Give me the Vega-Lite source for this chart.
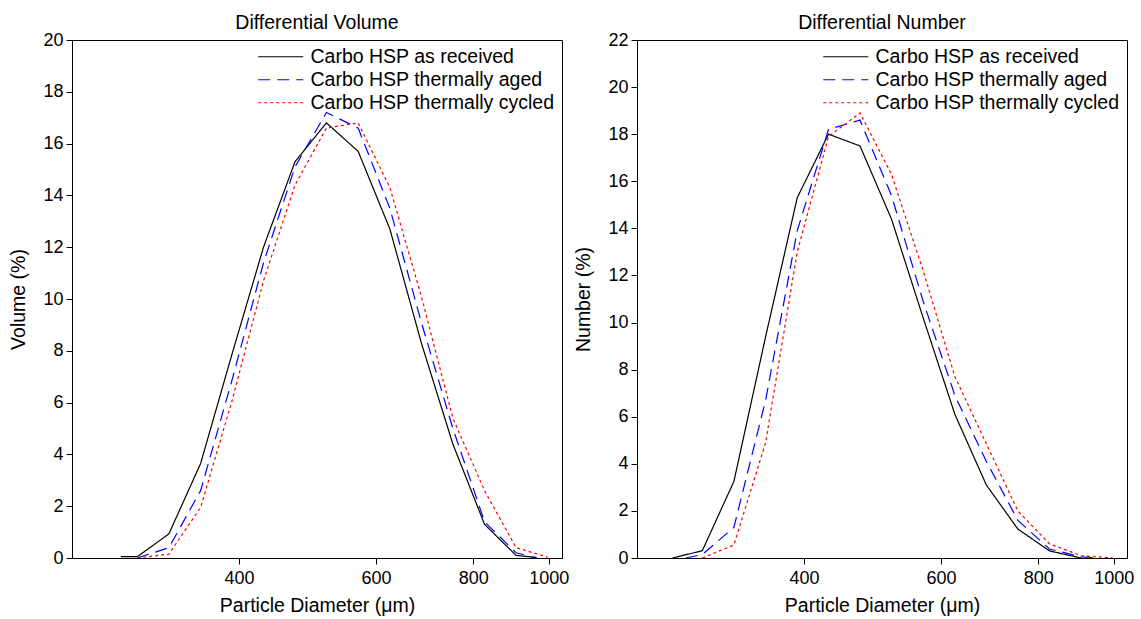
{
  "$schema": "https://vega.github.io/schema/vega-lite/v6.json",
  "background": "white",
  "padding": {"left": 8, "top": 12, "right": 5, "bottom": 5},
  "config": {
    "font": "Liberation Sans",
    "view": {"stroke": "#000000", "strokeWidth": 1},
    "axis": {"domainColor": "#000000", "tickColor": "#000000", "labelColor": "#000000", "titleColor": "#000000", "labelFontSize": 18, "titleFontSize": 19.5, "titleFontWeight": "normal", "tickSize": 6, "grid": false, "labelFont": "Liberation Sans", "titleFont": "Liberation Sans", "domainWidth": 1, "tickWidth": 1},
    "axisY": {"titlePadding": 14, "labelPadding": 3},
    "axisX": {"titlePadding": 9, "labelPadding": 5},
    "title": {"fontSize": 19.5, "fontWeight": "normal", "color": "#000000", "font": "Liberation Sans", "offset": -2},
    "legend": {"orient": "top-right", "offset": 7, "labelFontSize": 19.5, "labelFont": "Liberation Sans", "labelColor": "#000000", "symbolType": "M-3,0H3", "symbolSize": 225, "symbolStrokeWidth": 1.2, "labelOffset": 20, "rowPadding": 2, "padding": 0, "labelLimit": 400}
  },
  "datasets": {
    "psd": [
      {"panel": "volume", "series": "Carbo HSP as received", "d": 282, "v": 0.05},
      {"panel": "volume", "series": "Carbo HSP as received", "d": 296, "v": 0.05},
      {"panel": "volume", "series": "Carbo HSP as received", "d": 325, "v": 0.93},
      {"panel": "volume", "series": "Carbo HSP as received", "d": 357, "v": 3.65},
      {"panel": "volume", "series": "Carbo HSP as received", "d": 392, "v": 7.9},
      {"panel": "volume", "series": "Carbo HSP as received", "d": 430, "v": 12.0},
      {"panel": "volume", "series": "Carbo HSP as received", "d": 472, "v": 15.3},
      {"panel": "volume", "series": "Carbo HSP as received", "d": 518, "v": 16.8},
      {"panel": "volume", "series": "Carbo HSP as received", "d": 569, "v": 15.7},
      {"panel": "volume", "series": "Carbo HSP as received", "d": 625, "v": 12.7},
      {"panel": "volume", "series": "Carbo HSP as received", "d": 686, "v": 8.3},
      {"panel": "volume", "series": "Carbo HSP as received", "d": 753, "v": 4.4},
      {"panel": "volume", "series": "Carbo HSP as received", "d": 827, "v": 1.3},
      {"panel": "volume", "series": "Carbo HSP as received", "d": 908, "v": 0.1},
      {"panel": "volume", "series": "Carbo HSP as received", "d": 965, "v": 0.02},
      {"panel": "volume", "series": "Carbo HSP thermally aged", "d": 296, "v": 0},
      {"panel": "volume", "series": "Carbo HSP thermally aged", "d": 325, "v": 0.4},
      {"panel": "volume", "series": "Carbo HSP thermally aged", "d": 357, "v": 2.6},
      {"panel": "volume", "series": "Carbo HSP thermally aged", "d": 392, "v": 6.9},
      {"panel": "volume", "series": "Carbo HSP thermally aged", "d": 430, "v": 11.4},
      {"panel": "volume", "series": "Carbo HSP thermally aged", "d": 472, "v": 15.1},
      {"panel": "volume", "series": "Carbo HSP thermally aged", "d": 518, "v": 17.2},
      {"panel": "volume", "series": "Carbo HSP thermally aged", "d": 569, "v": 16.6},
      {"panel": "volume", "series": "Carbo HSP thermally aged", "d": 625, "v": 13.5},
      {"panel": "volume", "series": "Carbo HSP thermally aged", "d": 686, "v": 9.1},
      {"panel": "volume", "series": "Carbo HSP thermally aged", "d": 753, "v": 5.0},
      {"panel": "volume", "series": "Carbo HSP thermally aged", "d": 827, "v": 1.4},
      {"panel": "volume", "series": "Carbo HSP thermally aged", "d": 908, "v": 0.2},
      {"panel": "volume", "series": "Carbo HSP thermally aged", "d": 965, "v": 0},
      {"panel": "volume", "series": "Carbo HSP thermally cycled", "d": 296, "v": 0},
      {"panel": "volume", "series": "Carbo HSP thermally cycled", "d": 325, "v": 0.15},
      {"panel": "volume", "series": "Carbo HSP thermally cycled", "d": 357, "v": 1.95},
      {"panel": "volume", "series": "Carbo HSP thermally cycled", "d": 392, "v": 6.1},
      {"panel": "volume", "series": "Carbo HSP thermally cycled", "d": 430, "v": 10.7},
      {"panel": "volume", "series": "Carbo HSP thermally cycled", "d": 472, "v": 14.4},
      {"panel": "volume", "series": "Carbo HSP thermally cycled", "d": 518, "v": 16.6},
      {"panel": "volume", "series": "Carbo HSP thermally cycled", "d": 569, "v": 16.8},
      {"panel": "volume", "series": "Carbo HSP thermally cycled", "d": 625, "v": 14.3},
      {"panel": "volume", "series": "Carbo HSP thermally cycled", "d": 686, "v": 10.1},
      {"panel": "volume", "series": "Carbo HSP thermally cycled", "d": 753, "v": 5.4},
      {"panel": "volume", "series": "Carbo HSP thermally cycled", "d": 827, "v": 2.6},
      {"panel": "volume", "series": "Carbo HSP thermally cycled", "d": 908, "v": 0.4},
      {"panel": "volume", "series": "Carbo HSP thermally cycled", "d": 997, "v": 0.03},
      {"panel": "number", "series": "Carbo HSP as received", "d": 271, "v": 0},
      {"panel": "number", "series": "Carbo HSP as received", "d": 296, "v": 0.31},
      {"panel": "number", "series": "Carbo HSP as received", "d": 325, "v": 3.25},
      {"panel": "number", "series": "Carbo HSP as received", "d": 357, "v": 9.4},
      {"panel": "number", "series": "Carbo HSP as received", "d": 392, "v": 15.3},
      {"panel": "number", "series": "Carbo HSP as received", "d": 430, "v": 18.0},
      {"panel": "number", "series": "Carbo HSP as received", "d": 472, "v": 17.5},
      {"panel": "number", "series": "Carbo HSP as received", "d": 518, "v": 14.4},
      {"panel": "number", "series": "Carbo HSP as received", "d": 569, "v": 10.2},
      {"panel": "number", "series": "Carbo HSP as received", "d": 625, "v": 6.1},
      {"panel": "number", "series": "Carbo HSP as received", "d": 686, "v": 3.1},
      {"panel": "number", "series": "Carbo HSP as received", "d": 753, "v": 1.23},
      {"panel": "number", "series": "Carbo HSP as received", "d": 827, "v": 0.3},
      {"panel": "number", "series": "Carbo HSP as received", "d": 908, "v": 0},
      {"panel": "number", "series": "Carbo HSP thermally aged", "d": 282, "v": 0},
      {"panel": "number", "series": "Carbo HSP thermally aged", "d": 296, "v": 0.15},
      {"panel": "number", "series": "Carbo HSP thermally aged", "d": 325, "v": 1.3},
      {"panel": "number", "series": "Carbo HSP thermally aged", "d": 357, "v": 6.7},
      {"panel": "number", "series": "Carbo HSP thermally aged", "d": 392, "v": 13.9},
      {"panel": "number", "series": "Carbo HSP thermally aged", "d": 430, "v": 18.2},
      {"panel": "number", "series": "Carbo HSP thermally aged", "d": 472, "v": 18.6},
      {"panel": "number", "series": "Carbo HSP thermally aged", "d": 518, "v": 15.4},
      {"panel": "number", "series": "Carbo HSP thermally aged", "d": 569, "v": 10.9},
      {"panel": "number", "series": "Carbo HSP thermally aged", "d": 625, "v": 6.9},
      {"panel": "number", "series": "Carbo HSP thermally aged", "d": 686, "v": 4.1},
      {"panel": "number", "series": "Carbo HSP thermally aged", "d": 753, "v": 1.6},
      {"panel": "number", "series": "Carbo HSP thermally aged", "d": 827, "v": 0.38},
      {"panel": "number", "series": "Carbo HSP thermally aged", "d": 908, "v": 0.05},
      {"panel": "number", "series": "Carbo HSP thermally aged", "d": 960, "v": 0},
      {"panel": "number", "series": "Carbo HSP thermally cycled", "d": 296, "v": 0},
      {"panel": "number", "series": "Carbo HSP thermally cycled", "d": 325, "v": 0.55},
      {"panel": "number", "series": "Carbo HSP thermally cycled", "d": 357, "v": 4.9},
      {"panel": "number", "series": "Carbo HSP thermally cycled", "d": 392, "v": 13.0},
      {"panel": "number", "series": "Carbo HSP thermally cycled", "d": 430, "v": 17.9},
      {"panel": "number", "series": "Carbo HSP thermally cycled", "d": 472, "v": 18.9},
      {"panel": "number", "series": "Carbo HSP thermally cycled", "d": 518, "v": 16.3},
      {"panel": "number", "series": "Carbo HSP thermally cycled", "d": 569, "v": 12.2},
      {"panel": "number", "series": "Carbo HSP thermally cycled", "d": 625, "v": 7.7},
      {"panel": "number", "series": "Carbo HSP thermally cycled", "d": 686, "v": 4.85},
      {"panel": "number", "series": "Carbo HSP thermally cycled", "d": 753, "v": 2.0},
      {"panel": "number", "series": "Carbo HSP thermally cycled", "d": 827, "v": 0.6},
      {"panel": "number", "series": "Carbo HSP thermally cycled", "d": 908, "v": 0.1},
      {"panel": "number", "series": "Carbo HSP thermally cycled", "d": 997, "v": 0}
    ]
  },
  "spacing": 75,
  "bounds": "flush",
  "resolve": {"scale": {"color": "independent", "strokeDash": "independent", "y": "independent"}, "legend": {"color": "independent", "strokeDash": "independent"}},
  "hconcat": [
    {
      "width": 490,
      "height": 518,
      "title": {"text": "Differential Volume"},
      "data": {"name": "psd"},
      "transform": [{"filter": "datum.panel === 'volume'"}],
      "mark": {"type": "line", "strokeWidth": 1.2, "clip": true},
      "encoding": {
        "x": {"field": "d", "type": "quantitative", "scale": {"type": "log", "domain": [244, 1040], "nice": false}, "axis": {"values": [400, 600, 800, 1000], "format": "d", "title": "Particle Diameter (μm)"}},
        "y": {"field": "v", "type": "quantitative", "scale": {"domain": [0, 20], "nice": false, "zero": true}, "axis": {"values": [0, 2, 4, 6, 8, 10, 12, 14, 16, 18, 20], "title": "Volume (%)"}},
        "color": {"field": "series", "type": "nominal", "scale": {"domain": ["Carbo HSP as received", "Carbo HSP thermally aged", "Carbo HSP thermally cycled"], "range": ["#000000", "#0000ff", "#ff0000"]}, "legend": {"title": null}},
        "strokeDash": {"field": "series", "type": "nominal", "scale": {"domain": ["Carbo HSP as received", "Carbo HSP thermally aged", "Carbo HSP thermally cycled"], "range": [[1, 0], [12, 7], [3, 3]]}, "legend": {"title": null}}
      }
    },
    {
      "width": 490,
      "height": 518,
      "title": {"text": "Differential Number"},
      "data": {"name": "psd"},
      "transform": [{"filter": "datum.panel === 'number'"}],
      "mark": {"type": "line", "strokeWidth": 1.2, "clip": true},
      "encoding": {
        "x": {"field": "d", "type": "quantitative", "scale": {"type": "log", "domain": [244, 1040], "nice": false}, "axis": {"values": [400, 600, 800, 1000], "format": "d", "title": "Particle Diameter (μm)"}},
        "y": {"field": "v", "type": "quantitative", "scale": {"domain": [0, 22], "nice": false, "zero": true}, "axis": {"values": [0, 2, 4, 6, 8, 10, 12, 14, 16, 18, 20, 22], "title": "Number (%)"}},
        "color": {"field": "series", "type": "nominal", "scale": {"domain": ["Carbo HSP as received", "Carbo HSP thermally aged", "Carbo HSP thermally cycled"], "range": ["#000000", "#0000ff", "#ff0000"]}, "legend": {"title": null}},
        "strokeDash": {"field": "series", "type": "nominal", "scale": {"domain": ["Carbo HSP as received", "Carbo HSP thermally aged", "Carbo HSP thermally cycled"], "range": [[1, 0], [12, 7], [3, 3]]}, "legend": {"title": null}}
      }
    }
  ]
}
